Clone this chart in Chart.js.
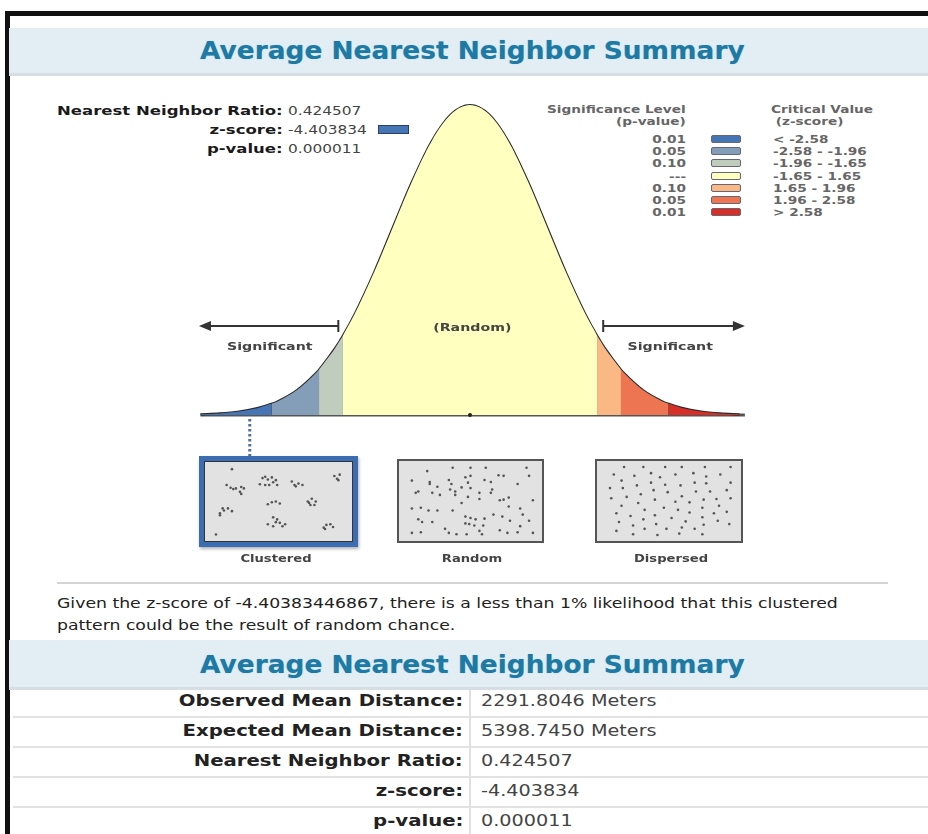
<!DOCTYPE html>
<html>
<head>
<meta charset="utf-8">
<script src="https://cdn.jsdelivr.net/npm/chart.js@4.4.1/dist/chart.umd.min.js"></script>
<style>
  body { margin: 0; width: 928px; height: 834px; overflow: hidden; background: #fff; position: relative; font-family: "DejaVu Sans", Verdana, sans-serif; }
  .abs { position: absolute; }
  .band { position: absolute; left: 9px; width: 919px; background: #e3eef4; border-bottom: 3px solid #d6dee3; }
  .band span { display: block; text-align: center; color: #1d7aa4; font-weight: bold; font-size: 24px; padding-left: 7px; transform: scaleX(1.1); text-shadow: 0 0 1px rgba(29,122,164,0.4); }
  .stat-l { position: absolute; right: 645px; font-weight: bold; font-size: 13px; color: #1a1a1a; white-space: nowrap; transform: scaleX(1.27); transform-origin: right center; }
  .stat-v { position: absolute; left: 288px; font-size: 13px; color: #444; white-space: nowrap; transform: scaleX(1.18); transform-origin: left center; }
  .leg { position: absolute; font-weight: bold; font-size: 10.5px; color: #666; white-space: nowrap; line-height: 12px; transform: scaleX(1.3); }
  .leg.r { transform-origin: right center; text-align: right; }
  .leg.l { transform-origin: left center; }
  .sw { position: absolute; width: 28px; height: 6px; border: 1px solid #667; border-radius: 2px; }
  .box { position: absolute; background: #e2e2e2; }
  .boxlabel { position: absolute; font-weight: bold; font-size: 10.5px; color: #444; width: 160px; text-align: center; transform: scaleX(1.25); }
  .row-l { position: absolute; right: 465px; font-weight: bold; font-size: 16px; color: #222; white-space: nowrap; transform: scaleX(1.23); transform-origin: right center; }
  .row-v { position: absolute; left: 481px; font-size: 16px; color: #444; white-space: nowrap; transform: scaleX(1.2); transform-origin: left center; }
  .sep { position: absolute; left: 13px; width: 915px; height: 2px; background: #e2e2e2; }
</style>
</head>
<body>
<div class="abs" style="left:5px;top:11px;width:923px;height:5px;background:#111"></div>
<div class="abs" style="left:5px;top:11px;width:5px;height:823px;background:#111"></div>

<div class="band" style="top:28px;height:45px"><span style="line-height:46px">Average Nearest Neighbor Summary</span></div>

<div id="stats"></div>
<div class="abs" style="left:378px;top:125px;width:29px;height:7px;background:#4575b5;border:1px solid #2b3f66"></div>
<div id="legend"></div>

<canvas id="curve" class="abs" width="590" height="366" style="left:180px;top:90px"></canvas>

<div class="box" style="left:199px;top:456px;width:149px;height:81px;border:5px solid #3c6cb2;box-shadow:inset 0 0 0 1px #333, 1px 2px 3px rgba(0,0,0,0.3)"><canvas id="clustered" width="149" height="81"></canvas></div>
<div class="box" style="left:397px;top:459px;width:143px;height:80px;border:2px solid #555"><canvas id="random" width="143" height="80"></canvas></div>
<div class="box" style="left:595px;top:459px;width:144px;height:80px;border:2px solid #555"><canvas id="dispersed" width="144" height="80"></canvas></div>
<div class="boxlabel" style="left:196px;top:552px">Clustered</div>
<div class="boxlabel" style="left:392px;top:552px">Random</div>
<div class="boxlabel" style="left:591px;top:552px">Dispersed</div>

<div class="abs" style="left:57px;top:582px;width:831px;height:2px;background:#d4d4d4"></div>
<div class="abs" style="left:57px;top:592px;font-size:14.5px;line-height:22px;color:#222;white-space:nowrap;transform:scaleX(1.19);transform-origin:left top">Given the z-score of -4.40383446867, there is a less than 1% likelihood that this clustered<br>pattern could be the result of random chance.</div>

<div class="band" style="top:640px;height:47px"><span style="line-height:50px">Average Nearest Neighbor Summary</span></div>
<div class="abs" style="left:469px;top:690px;width:2px;height:144px;background:#e0e0e0"></div>
<div id="table"></div>

<script>
// standard normal curve
const zValues = [-3.5, -3.25, -3, -2.75, -2.58, -2.5, -2.25, -2, -1.96, -1.75, -1.65, -1.5, -1.25, -1, -0.75, -0.5, -0.25, 0,
  0.25, 0.5, 0.75, 1, 1.25, 1.5, 1.65, 1.75, 1.96, 2, 2.25, 2.5, 2.58, 2.75, 3, 3.25, 3.5];
const density = [0.0009, 0.0020, 0.0044, 0.0091, 0.0143, 0.0175, 0.0317, 0.0540, 0.0584, 0.0863, 0.1023, 0.1295, 0.1826, 0.2420, 0.3011, 0.3521, 0.3867, 0.3989,
  0.3867, 0.3521, 0.3011, 0.2420, 0.1826, 0.1295, 0.1023, 0.0863, 0.0584, 0.0540, 0.0317, 0.0175, 0.0143, 0.0091, 0.0044, 0.0020, 0.0009];
const cutPoints = [-3.5, -2.58, -1.96, -1.65, 1.65, 1.96, 2.58, 3.5];
const bandColors = ["#4575b5", "#849eba", "#c0ccbe", "#ffffbf", "#fab984", "#ed7551", "#d62f27"];

const sigLevels = ["0.01", "0.05", "0.10", "---", "0.10", "0.05", "0.01"];
const critValues = ["< -2.58", "-2.58 - -1.96", "-1.96 - -1.65", "-1.65 - 1.65", "1.65 - 1.96", "1.96 - 2.58", "> 2.58"];

const statLabels = ["Nearest Neighbor Ratio:", "z-score:", "p-value:"];
const statValues = ["0.424507", "-4.403834", "0.000011"];

const tableLabels = ["Observed Mean Distance:", "Expected Mean Distance:", "Nearest Neighbor Ratio:", "z-score:", "p-value:"];
const tableValues = ["2291.8046 Meters", "5398.7450 Meters", "0.424507", "-4.403834", "0.000011"];

const markerZ = -2.86; // marker sits inside the < -2.58 band

// sample point patterns (0-100 units)
const clusteredPts = [[11,26],[14,30],[16,32],[18,31],[22,29],[24,31],[21,36],[22,39],
  [38,16],[40,14],[42,18],[45,15],[48,19],[36,25],[40,26],[43,26],[49,26],[46,22],
  [60,21],[62,26],[65,24],[68,26],[63,28],
  [92,13],[94,17],[96,11],[95,19],
  [42,54],[45,51],[48,50],[51,53],
  [72,50],[75,46],[78,50],[74,55],[77,55],[73,52],
  [6,67],[9,63],[12,60],[15,64],[8,60],[6,70],
  [46,73],[49,76],[42,83],[46,86],[51,81],[53,86],[55,83],[48,80],
  [84,88],[86,84],[89,83],[91,87],[85,90],
  [15,3],[3,98]];
const randomPts = [[16,6],[36,1],[50,1],[62,1],[94,1],[4,20],[18,22],[33,19],[35,25],[46,15],[50,13],[61,19],[66,22],
  [72,12],[76,13],[96,13],[18,25],[24,29],[34,33],[38,36],[48,23],[50,31],[43,30],[57,38],[67,33],[66,38],[87,25],
  [7,38],[9,36],[26,41],[20,38],[38,41],[48,44],[57,47],[73,49],[76,48],[80,45],[99,49],[43,53],[80,58],[89,61],
  [11,60],[17,64],[24,64],[36,64],[4,61],[68,70],[75,73],[91,70],[9,77],[12,81],[20,81],[46,73],[50,75],[54,77],
  [61,76],[46,83],[49,84],[53,86],[60,86],[96,79],[30,91],[89,87],[73,93],[11,96],[4,97],[33,97],[39,99],[47,99],
  [57,94],[59,99],[79,97],[87,96],[99,97],[81,79]];
const dispersedPts = [[15,0],[30,0],[47,0],[60,0],[78,0],[98,0],[7,11],[23,13],[36,9],[43,15],[55,11],[69,9],[79,14],[90,11],
  [13,20],[25,27],[36,23],[47,26],[59,27],[70,23],[79,24],[98,23],[4,31],[14,31],[28,40],[38,34],[49,37],[60,43],
  [71,36],[82,36],[95,34],[5,46],[17,44],[26,53],[39,48],[55,51],[66,52],[77,48],[87,47],[98,46],[13,57],[46,60],
  [31,63],[57,63],[66,67],[76,60],[89,57],[9,68],[20,72],[30,77],[39,71],[52,75],[63,80],[76,74],[85,68],[95,66],
  [11,81],[22,86],[31,91],[40,84],[48,91],[60,89],[70,91],[77,85],[88,79],[97,84],[9,94],[22,99],[41,100],[58,98],[76,99]];

// ---- html text blocks ----
const statsEl = document.getElementById("stats");
statLabels.forEach((l, i) => {
  const top = 103 + i * 19;
  statsEl.innerHTML += '<div class="stat-l" style="top:' + top + 'px">' + l + '</div>' +
    '<div class="stat-v" style="top:' + top + 'px">' + statValues[i] + '</div>';
});

const legEl = document.getElementById("legend");
legEl.innerHTML += '<div class="leg r" style="right:242px;top:103px">Significance Level<br>(p-value)</div>';
legEl.innerHTML += '<div class="leg l" style="left:771px;top:103px">Critical Value<br>&nbsp;(z-score)</div>';
sigLevels.forEach((s, i) => {
  const top = 133 + i * 12.2;
  legEl.innerHTML += '<div class="leg r" style="right:242px;top:' + top + 'px">' + s + '</div>' +
    '<div class="sw" style="left:711px;top:' + (top + 2) + 'px;background:' + bandColors[i] + '"></div>' +
    '<div class="leg l" style="left:773px;top:' + top + 'px">' + critValues[i] + '</div>';
});

const tableEl = document.getElementById("table");
tableLabels.forEach((l, i) => {
  const top = 691 + i * 30;
  tableEl.innerHTML += '<div class="row-l" style="top:' + top + 'px">' + l + '</div>' +
    '<div class="row-v" style="top:' + top + 'px">' + tableValues[i] + '</div>';
  if (i > 0) tableEl.innerHTML += '<div class="sep" style="top:' + (top - 5) + 'px"></div>';
});

// ---- bell curve ----
function densityAt(z) {
  return density[zValues.indexOf(z)];
}

const datasets = [];
// coloured bands
for (let b = 0; b < bandColors.length; b++) {
  const pts = [];
  zValues.forEach((z, i) => {
    if (z >= cutPoints[b] && z <= cutPoints[b + 1]) pts.push({ x: z, y: density[i] });
  });
  datasets.push({
    data: pts,
    fill: "origin",
    backgroundColor: bandColors[b],
    borderWidth: 0,
    pointRadius: 0,
    cubicInterpolationMode: "monotone",
  });
}
// dividers between bands
cutPoints.slice(1, -1).forEach((c) => {
  datasets.push({
    data: [{ x: c, y: 0 }, { x: c, y: densityAt(c) }],
    borderColor: "#333",
    borderWidth: 1.5,
    pointRadius: 0,
    fill: false,
  });
});
// outline
datasets.push({
  data: zValues.map((z, i) => ({ x: z, y: density[i] })),
  borderColor: "#2b2b2b",
  borderWidth: 2.2,
  pointRadius: 0,
  fill: false,
  cubicInterpolationMode: "monotone",
});
// base line
datasets.push({
  data: [{ x: -3.5, y: 0 }, { x: 3.57, y: 0 }],
  borderColor: "#555",
  borderWidth: 3,
  pointRadius: 0,
  fill: false,
});

function arrow(ctx, xTick, xHead, y) {
  const dir = xHead < xTick ? -1 : 1;
  ctx.beginPath();
  ctx.moveTo(xTick, y);
  ctx.lineTo(xHead - dir * 8, y);
  ctx.moveTo(xTick, y - 6);
  ctx.lineTo(xTick, y + 6);
  ctx.stroke();
  ctx.beginPath();
  ctx.moveTo(xHead, y);
  ctx.lineTo(xHead - dir * 12, y - 5);
  ctx.lineTo(xHead - dir * 12, y + 5);
  ctx.closePath();
  ctx.fill();
}

function wideText(ctx, txt, x, y) {
  ctx.save();
  ctx.translate(x, y);
  ctx.scale(1.35, 1);
  ctx.fillText(txt, 0, 0);
  ctx.restore();
}

const curveNotes = {
  id: "curveNotes",
  afterDatasetsDraw(chart) {
    const ctx = chart.ctx;
    const xs = chart.scales.x, ys = chart.scales.y;
    ctx.save();
    ctx.strokeStyle = "#333";
    ctx.fillStyle = "#333";
    ctx.lineWidth = 2;
    const ay = ys.getPixelForValue(0.1145);
    arrow(ctx, xs.getPixelForValue(-1.71), xs.getPixelForValue(-3.52), ay);
    arrow(ctx, xs.getPixelForValue(1.73), xs.getPixelForValue(3.57), ay);

    ctx.font = "bold 10.5px 'DejaVu Sans'";
    ctx.fillStyle = "#444";
    ctx.textAlign = "center";
    ctx.textBaseline = "middle";
    wideText(ctx, "(Random)", xs.getPixelForValue(0.03), ys.getPixelForValue(0.112));
    wideText(ctx, "Significant", xs.getPixelForValue(-2.6), ys.getPixelForValue(0.0875));
    wideText(ctx, "Significant", xs.getPixelForValue(2.6), ys.getPixelForValue(0.0875));

    // centre tick
    ctx.fillStyle = "#222";
    ctx.beginPath();
    ctx.arc(xs.getPixelForValue(0), ys.getPixelForValue(0), 2, 0, Math.PI * 2);
    ctx.fill();

    // dotted marker down to the clustered box
    ctx.strokeStyle = "#4f6f9c";
    ctx.lineWidth = 3;
    ctx.setLineDash([2.5, 2.5]);
    const mx = xs.getPixelForValue(markerZ);
    ctx.beginPath();
    ctx.moveTo(mx, ys.getPixelForValue(0) + 4);
    ctx.lineTo(mx, chart.height);
    ctx.stroke();
    ctx.restore();
  },
};

new Chart(document.getElementById("curve"), {
  type: "line",
  data: { datasets: datasets },
  options: {
    responsive: false,
    animation: false,
    events: [],
    layout: { padding: 0 },
    plugins: { legend: { display: false }, tooltip: { enabled: false } },
    scales: {
      x: { type: "linear", display: false, min: -3.766, max: 3.896 },
      y: { display: false, min: -0.0528, max: 0.4183 },
    },
  },
  plugins: [curveNotes],
});

// ---- point pattern thumbnails ----
function pattern(id, pts, radius) {
  new Chart(document.getElementById(id), {
    type: "scatter",
    data: {
      datasets: [{
        data: pts.map((p) => ({ x: p[0], y: p[1] })),
        pointRadius: radius,
        pointBackgroundColor: "#555",
        pointBorderWidth: 0,
      }],
    },
    options: {
      responsive: false,
      animation: false,
      events: [],
      plugins: { legend: { display: false }, tooltip: { enabled: false } },
      scales: {
        x: { display: false, min: -3, max: 103 },
        y: { display: false, min: -3, max: 103, reverse: true },
      },
    },
  });
}
pattern("clustered", clusteredPts, 1.3);
pattern("random", randomPts, 1.3);
pattern("dispersed", dispersedPts, 1.3);
</script>
</body>
</html>
